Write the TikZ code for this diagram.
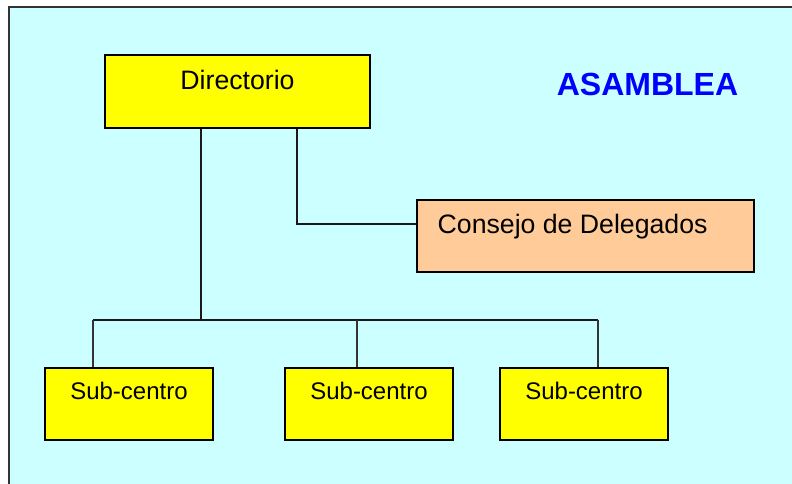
\documentclass[tikz,border=0pt]{standalone}
\usepackage{fontspec}
\setmainfont{Liberation Sans}
\definecolor{bgcyan}{HTML}{CCFFFF}
\definecolor{boxyellow}{HTML}{FFFF00}
\definecolor{boxpeach}{HTML}{FFCC99}
\definecolor{titleblue}{HTML}{0000FF}
\begin{document}
\begin{tikzpicture}[x=0.75pt,y=-0.75pt,
  orgbox/.style={draw=black, line width=1.5pt, inner sep=0pt},
  mainline/.style={draw=black!90, line width=1.5pt},
  dropline/.style={draw=black!80, line width=0.8pt},
  bigtext/.style={font=\fontsize{20}{24}\selectfont},
  subtext/.style={font=\fontsize{18}{22}\selectfont}]
\useasboundingbox (0,0) rectangle (792,484);
\fill[bgcyan] (9,7) rectangle (800,492);
\draw[black!80, line width=0.8pt] (9,492) -- (9,7) -- (800,7);

\node[orgbox, fill=boxyellow, minimum width=198.75pt, minimum height=54.75pt,
  label={[anchor=base, yshift=-27pt, bigtext]north:Directorio}] (dir) at (237.5,91.5) {};
\node[orgbox, fill=boxpeach, minimum width=252.75pt, minimum height=54pt,
  label={[anchor=base west, xshift=12.75pt, yshift=-26.25pt, bigtext]north west:Consejo de Delegados}] (con) at (585.5,236) {};
\node[orgbox, fill=boxyellow, minimum width=126pt, minimum height=54pt,
  label={[anchor=base, yshift=-24pt, subtext]north:Sub-centro}] (s1) at (129,404) {};
\node[orgbox, fill=boxyellow, minimum width=126pt, minimum height=54pt,
  label={[anchor=base, yshift=-24pt, subtext]north:Sub-centro}] (s2) at (369,404) {};
\node[orgbox, fill=boxyellow, minimum width=126pt, minimum height=54pt,
  label={[anchor=base, yshift=-24pt, subtext]north:Sub-centro}] (s3) at (584,404) {};

\node[anchor=base, text=titleblue, font=\fontsize{24}{28}\selectfont\bfseries] (asam) at (647.5,96) {ASAMBLEA};

\coordinate (bus) at (201,320);
\coordinate (cj) at (297,224);
\coordinate (bl) at (93,320);
\coordinate (bm) at (357,320);
\coordinate (br) at (598,320);

\draw[mainline] (dir.south -| bus) -- (bus);
\draw[mainline] (dir.south -| cj) -- (cj) -- (con.west |- cj);
\draw[mainline] (bl) -- (br);
\draw[dropline] (bl) -- (s1.north -| bl);
\draw[dropline] (bm) -- (s2.north -| bm);
\draw[dropline] (br) -- (s3.north -| br);
\end{tikzpicture}
\end{document}
